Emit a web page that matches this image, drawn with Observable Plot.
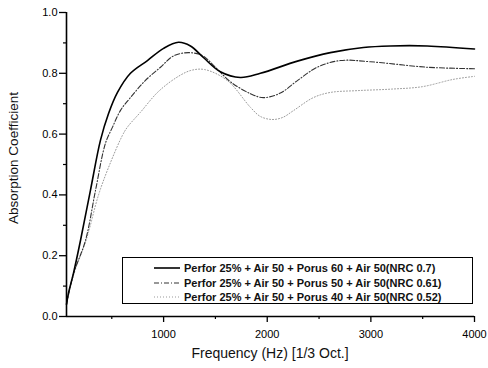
<!DOCTYPE html>
<html>
<head>
<meta charset="utf-8">
<script src="https://cdn.jsdelivr.net/npm/d3@7"></script>
<script src="https://cdn.jsdelivr.net/npm/@observablehq/plot@0.6"></script>
<style>
  body { margin: 0; background: #fff; }
  #wrap { position: relative; width: 488px; height: 368px; font-family: "Liberation Sans", Arial, sans-serif; }
  #legend { position: absolute; left: 122px; top: 257px; width: 349px; height: 45px; border: 1.5px solid #000; background: #fff; box-sizing: content-box; }
  .row { position: absolute; left: 0; height: 14px; display: flex; align-items: center; font-size: 11px; font-weight: bold; color: #111; white-space: nowrap; }
  .row svg { margin-left: 31px; margin-right: 4px; }
  .title { position: absolute; font-size: 14px; color: #111; white-space: nowrap; }
  #xtitle { left: 270px; top: 353px; transform: translate(-50%, -50%); }
  #ytitle { left: 13px; top: 158px; transform: translate(-50%, -50%) rotate(-90deg); font-size: 13.5px; }
  svg.plot g[aria-label="y-axis tick label"] text, svg.plot g[aria-label="x-axis tick label"] text { font-weight: bold; }
</style>
</head>
<body>
<div id="wrap"></div>
<script>
// Data
const seriesNames = [
  "Perfor 25% + Air 50 + Porus 60 + Air 50(NRC 0.7)",
  "Perfor 25% + Air 50 + Porus 50 + Air 50(NRC 0.61)",
  "Perfor 25% + Air 50 + Porus 40 + Air 50(NRC 0.52)"
];
const xTitle = "Frequency (Hz) [1/3 Oct.]";
const yTitle = "Absorption Coefficient";
const freq1 = [63, 82, 130, 198, 294, 391, 468, 555, 680, 844, 1000, 1143, 1259, 1384, 1548, 1741, 1934, 2291, 2609, 2928, 3188, 3544, 4000];
const abs1  = [0.04, 0.077, 0.142, 0.25, 0.415, 0.58, 0.667, 0.737, 0.80, 0.842, 0.882, 0.902, 0.89, 0.852, 0.805, 0.786, 0.80, 0.84, 0.868, 0.885, 0.89, 0.89, 0.88];
const freq2 = [63, 130, 246, 343, 439, 507, 584, 680, 820, 970, 1095, 1240, 1375, 1500, 1645, 1838, 1963, 2127, 2291, 2484, 2705, 2995, 3544, 4000];
const abs2  = [0.04, 0.14, 0.25, 0.415, 0.57, 0.623, 0.678, 0.72, 0.775, 0.82, 0.857, 0.868, 0.858, 0.82, 0.772, 0.733, 0.72, 0.735, 0.776, 0.82, 0.842, 0.838, 0.82, 0.815];
const freq3 = [63, 130, 260, 372, 480, 603, 651, 777, 950, 1143, 1270, 1400, 1616, 1838, 1934, 2050, 2150, 2252, 2445, 2609, 2870, 3200, 3496, 3795, 4000];
const abs3  = [0.04, 0.135, 0.26, 0.40, 0.50, 0.596, 0.623, 0.672, 0.74, 0.79, 0.81, 0.812, 0.776, 0.688, 0.658, 0.648, 0.655, 0.677, 0.72, 0.737, 0.743, 0.748, 0.756, 0.78, 0.79];
const xTicks = [1000, 2000, 3000, 4000];
const xMinor = [500, 1500, 2500, 3500];
const yTicks = [0, 0.2, 0.4, 0.6, 0.8, 1.0];
const yMinor = [0.1, 0.3, 0.5, 0.7, 0.9];
const xDomain = [63, 4000];

// Styles (not data)
const styles = [
  {stroke: "#000", strokeWidth: 1.6, dash: null},
  {stroke: "#333", strokeWidth: 1.1, dash: "5,2,1,2"},
  {stroke: "#999", strokeWidth: 1, dash: "1,2"}
];

const series = [[freq1, abs1], [freq2, abs2], [freq3, abs3]];
const rows = [];
series.forEach(([fs, vs], i) => fs.forEach((f, j) => rows.push({f, a: vs[j], s: seriesNames[i]})));

const lineMarks = series.map((_, i) => Plot.line(rows.filter(r => r.s === seriesNames[i]), {
  x: "f", y: "a", curve: "catmull-rom",
  stroke: styles[i].stroke, strokeWidth: styles[i].strokeWidth,
  strokeDasharray: styles[i].dash || undefined
}));

const chart = Plot.plot({
  width: 488, height: 368,
  marginLeft: 66, marginRight: 14, marginTop: 12, marginBottom: 52,
  style: {fontFamily: "'Liberation Sans', Arial, sans-serif", fontSize: "11px", color: "#000", background: "#fff"},
  x: {domain: xDomain},
  y: {domain: [0, 1]},
  marks: [
    ...lineMarks.slice().reverse(),
    Plot.axisX(xTicks, {tickSize: 6, tickPadding: 8, strokeWidth: 1.3, tickFormat: d3.format("d"), label: null, fontSize: 11}),
    Plot.axisX(xMinor, {tickSize: 3, text: null, label: null, strokeWidth: 1.2}),
    Plot.axisY(yTicks, {tickSize: 7, tickPadding: 2, strokeWidth: 1.3, tickFormat: d3.format(".1f"), label: null, fontSize: 11}),
    Plot.axisY(yMinor, {tickSize: 3, text: null, label: null, strokeWidth: 1.2}),
    Plot.ruleX([xDomain[0]], {strokeWidth: 1.6}),
    Plot.ruleY([0], {strokeWidth: 1.6})
  ]
});
const wrap = document.getElementById("wrap");
wrap.appendChild(chart);

// Axis titles
const xt = document.createElement("div"); xt.id = "xtitle"; xt.className = "title"; xt.textContent = xTitle; wrap.appendChild(xt);
const yt = document.createElement("div"); yt.id = "ytitle"; yt.className = "title"; yt.textContent = yTitle; wrap.appendChild(yt);

// Legend
const legend = document.createElement("div");
legend.id = "legend";
seriesNames.forEach((name, i) => {
  const row = document.createElement("div");
  row.className = "row";
  row.style.top = (3 + i * 14.5) + "px";
  const st = styles[i];
  row.innerHTML = `<svg width="26" height="6"><line x1="0" x2="26" y1="3" y2="3" stroke="${st.stroke}" stroke-width="${st.strokeWidth}" ${st.dash ? `stroke-dasharray="${st.dash}"` : ""}/></svg><span>${name}</span>`;
  legend.appendChild(row);
});
wrap.appendChild(legend);
</script>
</body>
</html>
